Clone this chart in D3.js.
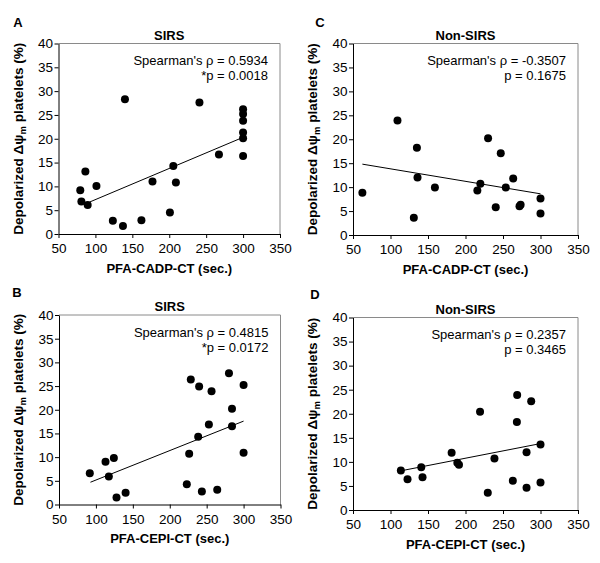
<!DOCTYPE html>
<html><head><meta charset="utf-8">
<script src="https://cdn.jsdelivr.net/npm/d3@7"></script>
<style>body{margin:0;background:#fff}svg{display:block;font-family:"Liberation Sans",Arial,sans-serif}</style>
</head><body><svg id="c" width="600" height="563"></svg>
<script>
// ---- data ----
const xTicks = [50,100,150,200,250,300,350];
const yTicks = [0,5,10,15,20,25,30,35,40];
const panelLetters = ["A","B","C","D"];
const panelTitles = ["SIRS","SIRS","Non-SIRS","Non-SIRS"];
const xTitles = ["PFA-CADP-CT (sec.)","PFA-CEPI-CT (sec.)","PFA-CADP-CT (sec.)","PFA-CEPI-CT (sec.)"];
const rhoTexts = ["Spearman's \u03c1 = 0.5934","Spearman's \u03c1 = 0.4815","Spearman's \u03c1 = -0.3507","Spearman's \u03c1 = 0.2357"];
const pTexts = ["*p = 0.0018","*p = 0.0172","p = 0.1675","p = 0.3465"];

const sirsCadpX = [79.5,81,86.4,89.5,101.4,123.6,137.3,140,162.3,177.3,200.9,205.5,209,240.9,267.3,300,300,300,300,300,300];
const sirsCadpY = [9.2,6.8,13.1,6.1,10.1,2.8,1.7,28.3,2.9,11.0,4.5,14.3,10.8,27.6,16.7,26.2,25.2,23.8,21.3,20.1,16.4];
const sirsCadpFitX = [92,300];
const sirsCadpFitY = [6.7,20.3];

const sirsCepiX = [91.7,113,117.5,124.3,127.9,140.2,223.1,226.3,228.5,238.5,239.8,243.5,253,256.6,264.3,280.2,284.3,284.3,300,300];
const sirsCepiY = [6.6,9.0,5.9,9.8,1.5,2.5,4.3,10.7,26.4,14.3,24.9,2.75,16.9,23.9,3.1,27.7,20.2,16.5,25.2,10.9];
const sirsCepiFitX = [92.6,300];
const sirsCepiFitY = [4.7,17.6];

const nonSirsCadpX = [62.5,109.3,131.1,135.2,136,159.2,215.8,219.8,230.1,240.3,247,253.7,263.6,272,273.5,300,300];
const nonSirsCadpY = [8.8,23.9,3.6,18.2,12.0,9.9,9.3,10.7,20.2,5.8,17.1,9.9,11.8,6.0,6.3,7.6,4.5];
const nonSirsCadpFitX = [62.5,300];
const nonSirsCadpFitY = [14.8,8.6];

const nonSirsCepiX = [113.8,122.7,141,142.7,181.5,189.1,191.3,219.4,229.7,238.6,263.1,268.9,268.5,281.4,281.4,287.6,300,300];
const nonSirsCepiY = [8.2,6.4,8.9,6.8,11.9,9.8,9.4,20.4,3.6,10.7,6.1,23.9,18.3,12.0,4.6,22.6,13.6,5.7];
const nonSirsCepiFitX = [112.4,300];
const nonSirsCepiFitY = [8.1,13.8];

// ---- layout ----
const layout = [
  {left:58.5,right:280,top:43.5,bottom:234,lx:18,ly:26.5},
  {left:59,right:280.5,top:315,bottom:504.5,lx:17,ly:296.5},
  {left:353,right:578,top:43.5,bottom:235,lx:320,ly:26.5},
  {left:353,right:578,top:317.5,bottom:510,lx:315,ly:298.5}
];
const series = [
  [sirsCadpX,sirsCadpY,sirsCadpFitX,sirsCadpFitY],
  [sirsCepiX,sirsCepiY,sirsCepiFitX,sirsCepiFitY],
  [nonSirsCadpX,nonSirsCadpY,nonSirsCadpFitX,nonSirsCadpFitY],
  [nonSirsCepiX,nonSirsCepiY,nonSirsCepiFitX,nonSirsCepiFitY]
];

const svg = d3.select("#c");
layout.forEach((L,i)=>{
  const [xs,ys,fx,fy] = series[i];
  const x = d3.scaleLinear().domain([50,350]).range([L.left,L.right]);
  const y = d3.scaleLinear().domain([0,40]).range([L.bottom,L.top]);
  const g = svg.append("g");
  // frame (top/right)
  g.append("path").attr("d",`M${L.left},${L.top}H${L.right}V${L.bottom}`)
    .attr("fill","none").attr("stroke","#8a8a8a").attr("stroke-width",1);
  const xa = g.append("g").attr("transform",`translate(0,${L.bottom})`)
    .call(d3.axisBottom(x).tickValues(xTicks).tickSize(4).tickPadding(5.5).tickSizeOuter(0));
  const ya = g.append("g").attr("transform",`translate(${L.left},0)`)
    .call(d3.axisLeft(y).tickValues(yTicks).tickSize(4).tickPadding(1.5).tickSizeOuter(0));
  [xa,ya].forEach(a=>{
    a.selectAll("text").attr("font-size",13.5).attr("fill","#000").attr("font-family","Liberation Sans, Arial, sans-serif");
    a.selectAll("line,path").attr("stroke","#000");
  });
  // fit line
  g.append("line").attr("x1",x(fx[0])).attr("y1",y(fy[0])).attr("x2",x(fx[1])).attr("y2",y(fy[1]))
    .attr("stroke","#000").attr("stroke-width",1);
  // points
  g.selectAll("circle.pt").data(xs.map((v,k)=>[v,ys[k]])).join("circle")
    .attr("cx",d=>x(d[0])).attr("cy",d=>y(d[1])).attr("r",4).attr("fill","#000");
  // texts
  g.append("text").attr("x",L.lx).attr("y",L.ly).attr("text-anchor","middle")
    .attr("font-weight","bold").attr("font-size",13).text(panelLetters[i]);
  g.append("text").attr("x",(L.left+L.right)/2).attr("y",L.top-4).attr("text-anchor","middle")
    .attr("font-weight","bold").attr("font-size",13).text(panelTitles[i]);
  g.append("text").attr("x",L.right-12).attr("y",L.top+21.5).attr("text-anchor","end")
    .attr("font-size",13).text(rhoTexts[i]);
  g.append("text").attr("x",L.right-12).attr("y",L.top+36.5).attr("text-anchor","end")
    .attr("font-size",13).text(pTexts[i]);
  g.append("text").attr("x",(L.left+L.right)/2).attr("y",L.bottom+38.5).attr("text-anchor","middle")
    .attr("font-weight","bold").attr("font-size",13).text(xTitles[i]);
  const yl = g.append("text").attr("transform",`translate(${L.left-36},${(L.top+L.bottom)/2}) rotate(-90)`)
    .attr("text-anchor","middle").attr("font-weight","bold").attr("font-size",13.5);
  yl.append("tspan").text("Depolarized \u0394\u03c8");
  yl.append("tspan").attr("font-size",9.5).attr("dy",3).text("m");
  yl.append("tspan").attr("dy",-3).text(" platelets (%)");
});
</script></body></html>
